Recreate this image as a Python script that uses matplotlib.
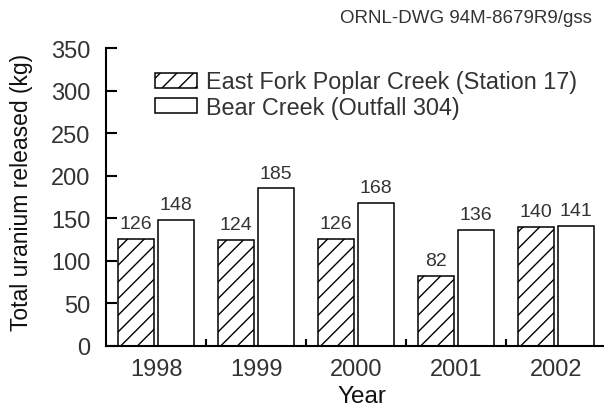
import matplotlib.pyplot as plt
import numpy as np

plt.rcParams["font.family"] = ["Liberation Sans", "DejaVu Sans"]
plt.rcParams["hatch.linewidth"] = 1.0

years = ["1998", "1999", "2000", "2001", "2002"]
efpc = [126, 124, 126, 82, 140]
bear = [148, 185, 168, 136, 141]

TXT = "#333333"

fig = plt.figure(figsize=(6.04, 4.14), dpi=100)
ax = fig.add_axes([106 / 604, 1 - 347 / 414, 1 - 106 / 604, (347 - 49) / 414])

x = np.arange(len(years))
w = 0.36
b1 = ax.bar(x - 0.2, efpc, w, facecolor="white", edgecolor="black",
            hatch="//", linewidth=1.1, label="East Fork Poplar Creek (Station 17)")
b2 = ax.bar(x + 0.2, bear, w, facecolor="white", edgecolor="black",
            linewidth=1.1, label="Bear Creek (Outfall 304)")

for bars in (b1, b2):
    ax.bar_label(bars, padding=5, fontsize=14, color=TXT,
                 family=["Liberation Sans Narrow", "Liberation Sans"])

ax.set_xlim(-0.5, 4.48)
ax.set_ylim(0, 350)
ax.set_yticks(range(0, 351, 50))
ax.set_xticks(x)
ax.set_xticklabels(years)
ax.set_xticks(np.arange(0.5, 4.5, 1), minor=True)

ax.spines["top"].set_visible(False)
ax.spines["right"].set_visible(False)
ax.spines["left"].set_linewidth(1.5)
ax.spines["bottom"].set_linewidth(1.5)

ax.tick_params(axis="y", direction="in", length=8, width=1.5,
               labelsize=17, labelcolor=TXT, pad=11)
ax.tick_params(axis="x", which="major", length=0, labelsize=17,
               labelcolor=TXT, pad=9)
ax.tick_params(axis="x", which="minor", direction="in", length=5, width=1.5)

ax.set_xlabel("Year", fontsize=17.5, color="#111111")
ax.xaxis.set_label_coords(0.514, -0.132)
ax.set_ylabel("Total uranium released (kg)", fontsize=16.5, color="#111111")
ax.yaxis.set_label_coords(-0.147, 0.517)

ax.legend(loc="upper left", bbox_to_anchor=(0.098, 0.925), frameon=False,
          fontsize=16.8, handlelength=1.8, handleheight=0.6,
          handletextpad=0.4, labelspacing=0.1, borderpad=0,
          borderaxespad=0, labelcolor=TXT)

fig.text(0.98, 0.955, "ORNL-DWG 94M-8679R9/gss", ha="right", va="center",
         fontsize=13.5, color=TXT)

fig.savefig("out.png", dpi=100)
